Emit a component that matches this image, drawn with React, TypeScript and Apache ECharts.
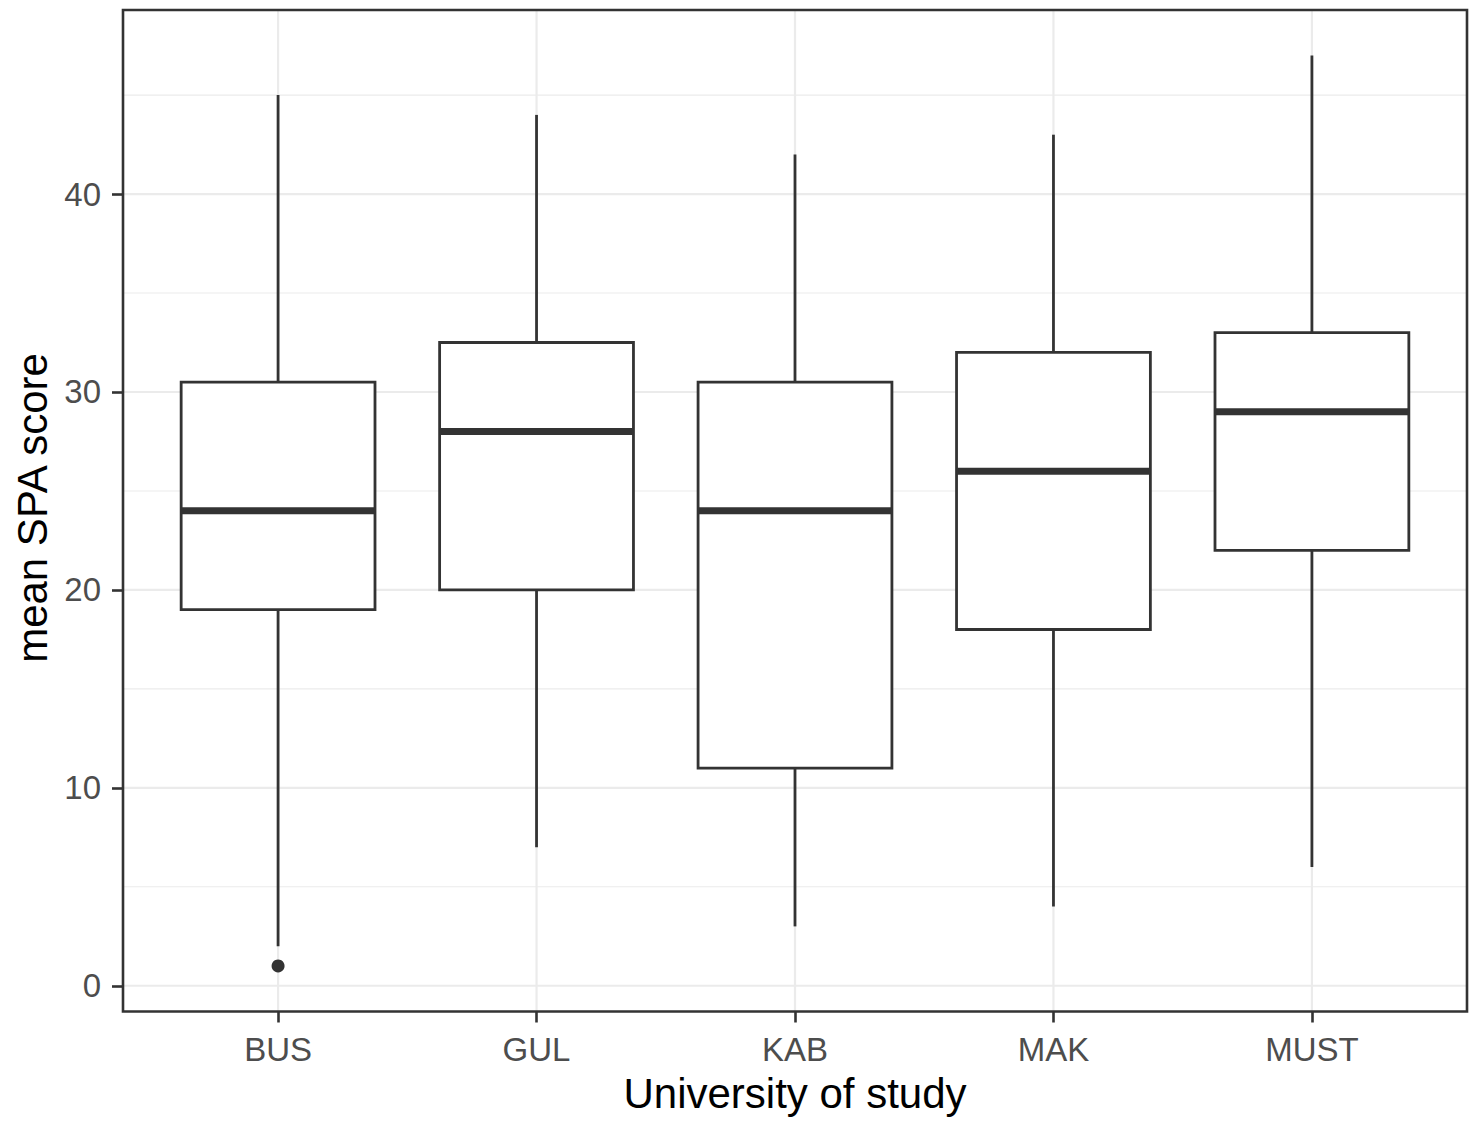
import React, { useEffect, useRef } from "react";
import * as echarts from "echarts";

const categories = ["BUS", "GUL", "KAB", "MAK", "MUST"];
const whiskerLow = [2, 7, 3, 4, 6];
const q1 = [19, 20, 11, 18, 22];
const median = [24, 28, 24, 26, 29];
const q3 = [30.5, 32.5, 30.5, 32, 33];
const whiskerHigh = [45, 44, 42, 43, 47];
const outlierCategory = ["BUS"];
const outlierValue = [1];
const yMajorTicks = [0, 10, 20, 30, 40];
const yMinorTicks = [5, 15, 25, 35, 45];

const FONT = "'Liberation Sans', Arial, sans-serif";
const INK = "#333333";
const GRID_COLOR = "#EBEBEB";

export default function App() {
  const ref = useRef<HTMLDivElement>(null);

  useEffect(() => {
    document.body.style.margin = "0";
    if (!ref.current) return;
    const chart = echarts.init(ref.current, undefined, { renderer: "svg" });

    const xTicks = categories.map((_, i) => i + 1);

    const gridData = [
      ...yMinorTicks.map((v) => [1, v, 0, 0]),
      ...yMajorTicks.map((v) => [1, v, 0, 1]),
      ...xTicks.map((v) => [v, 0, 1, 1]),
    ];

    const boxData = categories.map((_, i) => [
      i + 1,
      whiskerLow[i],
      q1[i],
      median[i],
      q3[i],
      whiskerHigh[i],
    ]);

    const outlierData = outlierCategory.map((c, i) => [
      categories.indexOf(c) + 1,
      outlierValue[i],
    ]);

    const gridLeft = 123;
    const gridTop = 10;
    const gridRight = 14;
    const gridBottom = 113.5;
    const W = 1481;
    const H = 1125;

    chart.setOption({
      animation: false,
      backgroundColor: "#ffffff",
      grid: {
        left: gridLeft,
        top: gridTop,
        right: gridRight,
        bottom: gridBottom,
        containLabel: false,
      },
      xAxis: {
        type: "value",
        min: 0.4,
        max: 5.6,
        axisLine: { show: false, onZero: false },
        splitLine: { show: false },
        axisTick: {
          show: true,
          customValues: xTicks,
          length: 11,
          lineStyle: { color: INK, width: 2.6 },
        },
        axisLabel: {
          customValues: xTicks,
          formatter: (v: number) => categories[Math.round(v) - 1] ?? "",
          color: "#4D4D4D",
          fontSize: 33,
          fontFamily: FONT,
          margin: 21,
        },
      },
      yAxis: {
        type: "value",
        min: -1.3,
        max: 49.3,
        axisLine: { show: false, onZero: false },
        splitLine: { show: false },
        axisTick: {
          show: true,
          customValues: yMajorTicks,
          length: 11,
          lineStyle: { color: INK, width: 2.6 },
        },
        axisLabel: {
          customValues: yMajorTicks,
          color: "#4D4D4D",
          fontSize: 33,
          fontFamily: FONT,
          margin: 22,
        },
      },
      graphic: [
        {
          type: "rect",
          z: 100,
          silent: true,
          shape: {
            x: gridLeft,
            y: gridTop,
            width: W - gridLeft - gridRight,
            height: H - gridTop - gridBottom,
          },
          style: { fill: "none", stroke: INK, lineWidth: 2.6 },
        },
        {
          type: "text",
          z: 100,
          x: (gridLeft + (W - gridRight)) / 2,
          y: 1093,
          style: {
            text: "University of study",
            fontSize: 42,
            fontFamily: FONT,
            fill: "#000000",
            textAlign: "center",
            textVerticalAlign: "middle",
          },
        },
        {
          type: "text",
          z: 100,
          x: 32,
          y: 508,
          rotation: Math.PI / 2,
          style: {
            text: "mean SPA score",
            fontSize: 42,
            fontFamily: FONT,
            fill: "#000000",
            textAlign: "center",
            textVerticalAlign: "middle",
          },
        },
      ],
      series: [
        {
          type: "custom",
          z: 1,
          silent: true,
          data: gridData,
          encode: { x: 0, y: 1 },
          renderItem: (params: any, api: any) => {
            const cs = params.coordSys;
            const dir = api.value(2);
            const major = api.value(3) === 1;
            const lw = major ? 2.2 : 1.1;
            if (dir === 0) {
              const y = api.coord([1, api.value(1)])[1];
              return {
                type: "line",
                shape: { x1: cs.x, y1: y, x2: cs.x + cs.width, y2: y },
                style: { stroke: GRID_COLOR, lineWidth: lw },
              };
            }
            const x = api.coord([api.value(0), 0])[0];
            return {
              type: "line",
              shape: { x1: x, y1: cs.y, x2: x, y2: cs.y + cs.height },
              style: { stroke: GRID_COLOR, lineWidth: lw },
            };
          },
        },
        {
          type: "custom",
          z: 2,
          data: boxData,
          encode: { x: 0, y: [1, 2, 3, 4, 5] },
          renderItem: (params: any, api: any) => {
            const xv = api.value(0);
            const pLow = api.coord([xv, api.value(1)]);
            const pQ1 = api.coord([xv, api.value(2)]);
            const pMed = api.coord([xv, api.value(3)]);
            const pQ3 = api.coord([xv, api.value(4)]);
            const pHigh = api.coord([xv, api.value(5)]);
            const half = api.size([0.75, 0])[0] / 2;
            const cx = pMed[0];
            const lineStyle = { stroke: INK, lineWidth: 2.8, lineCap: "butt" };
            return {
              type: "group",
              children: [
                {
                  type: "line",
                  shape: { x1: cx, y1: pHigh[1], x2: cx, y2: pQ3[1] },
                  style: lineStyle,
                },
                {
                  type: "line",
                  shape: { x1: cx, y1: pQ1[1], x2: cx, y2: pLow[1] },
                  style: lineStyle,
                },
                {
                  type: "rect",
                  shape: {
                    x: cx - half,
                    y: pQ3[1],
                    width: half * 2,
                    height: pQ1[1] - pQ3[1],
                  },
                  style: { fill: "#ffffff", stroke: INK, lineWidth: 2.8 },
                },
                {
                  type: "line",
                  shape: { x1: cx - half, y1: pMed[1], x2: cx + half, y2: pMed[1] },
                  style: { stroke: INK, lineWidth: 7, lineCap: "butt" },
                },
              ],
            };
          },
        },
        {
          type: "scatter",
          z: 3,
          data: outlierData,
          symbol: "circle",
          symbolSize: 13,
          itemStyle: { color: INK, opacity: 1 },
        },
      ],
    });

    return () => {
      chart.dispose();
    };
  }, []);

  return <div ref={ref} style={{ width: 1481, height: 1125 }} />;
}
